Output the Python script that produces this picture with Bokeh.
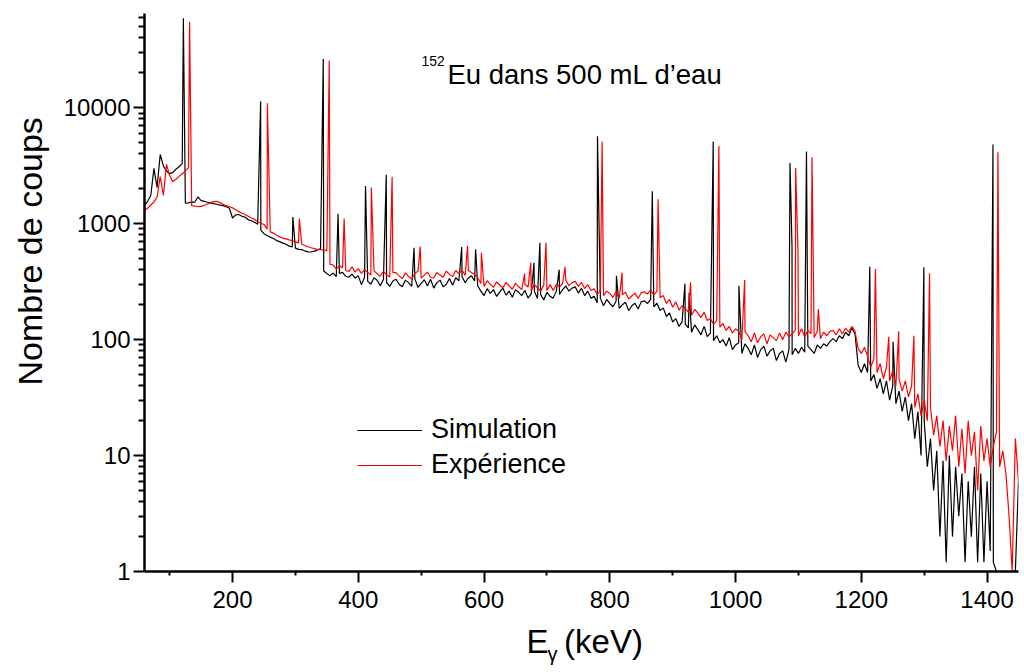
from bokeh.plotting import figure
from bokeh.models import (FixedTicker, Label, Legend, LegendItem, PrintfTickFormatter,
                          LinearAxis, Title)
from bokeh.embed import file_html
from bokeh.resources import INLINE

# ---------------- data ----------------
# channel energies of the 5 keV continuum grid (keV)
energy_grid = list(range(60, 1455, 5))

# Simulation continuum (counts per channel)
sim_continuum = [
    1440, 1560, 1750, 3000, 2050, 3950, 3150, 2850, 2700, 2760,
    2950, 3100, 3300, 1500, 1510, 1540, 1530, 1700, 1580, 1560,
    1530, 1510, 1490, 1470, 1445, 1430, 1400, 1360, 1120, 1190,
    1200, 1160, 1140, 1080, 1060, 1030, 990, 880, 820, 790,
    765, 745, 715, 700, 680, 665, 640, 630, 615, 600,
    598, 582, 572, 570, 580, 592, 610, 390, 372, 355,
    375, 350, 372, 380, 352, 345, 368, 340, 355, 298,
    345, 318, 300, 342, 325, 292, 330, 310, 288, 320,
    332, 300, 286, 326, 310, 288, 334, 282, 305, 328,
    290, 332, 278, 310, 326, 285, 300, 336, 295, 342,
    322, 348, 310, 340, 356, 320, 290, 262, 240, 275,
    250, 270, 236, 258, 278, 242, 262, 232, 270, 256,
    240, 266, 228, 248, 262, 226, 245, 220, 256, 236,
    228, 262, 245, 270, 290, 262, 278, 285, 252, 278,
    240, 262, 228, 236, 208, 228, 196, 222, 205, 192,
    214, 186, 200, 210, 178, 196, 206, 184, 212, 216,
    205, 222, 192, 206, 178, 188, 158, 170, 142, 152,
    130, 142, 136, 126, 116, 134, 122, 110, 130, 106,
    114, 98, 108, 94, 100, 88, 104, 82, 90, 94,
    76, 92, 84, 74, 90, 70, 82, 88, 72, 80,
    84, 66, 76, 80, 64, 82, 74, 84, 76, 86,
    78, 88, 82, 76, 90, 84, 92, 88, 96, 102,
    96, 108, 102, 116, 108, 126, 112, 60, 52, 62,
    52, 44, 50, 38, 46, 34, 44, 30, 40, 28,
    36, 24, 32, 20, 28, 14, 24, 10, 20, 8,
    14, 5, 11, 2, 9, 1.2, 10, 2, 8, 3,
    7, 1.2, 6, 2, 8, 1.2, 7, 1.2, 6, 1.5,
    1.2, 1, 1, 1, 1, 1, 1, 1, 6,
]

# Experiment continuum (counts per channel)
exp_continuum = [
    1300, 1360, 1450, 1540, 1700, 2550, 1750, 3250, 2600, 2300,
    2420, 2560, 2700, 2850, 3050, 1430, 1420, 1400, 1410, 1440,
    1480, 1520, 1550, 1560, 1520, 1470, 1430, 1400, 1370, 1320,
    1270, 1230, 1200, 1160, 1120, 1090, 1040, 1010, 985, 900,
    850, 830, 795, 770, 750, 740, 725, 715, 700, 680,
    665, 648, 632, 620, 610, 602, 598, 592, 585, 445,
    440, 405, 432, 418, 395, 388, 425, 382, 410, 372,
    400, 380, 360, 392, 370, 352, 388, 362, 346, 380,
    378, 355, 336, 376, 350, 334, 372, 390, 340, 360,
    382, 345, 340, 378, 360, 346, 390, 365, 350, 395,
    372, 398, 358, 394, 380, 365, 340, 305, 288, 322,
    300, 282, 315, 296, 280, 312, 290, 272, 306, 286,
    270, 300, 284, 266, 298, 280, 262, 295, 264, 298,
    266, 300, 285, 305, 325, 292, 310, 318, 288, 312,
    276, 298, 265, 275, 245, 268, 240, 262, 250, 232,
    258, 228, 244, 256, 224, 238, 252, 226, 254, 258,
    248, 268, 242, 262, 230, 240, 205, 222, 190, 212,
    180, 196, 186, 172, 162, 182, 170, 155, 172, 146,
    152, 136, 146, 128, 138, 120, 130, 114, 124, 118,
    100, 118, 108, 96, 114, 94, 106, 112, 92, 110,
    104, 98, 114, 100, 116, 106, 112, 120, 108, 124,
    106, 120, 112, 104, 118, 102, 116, 108, 118, 120,
    110, 124, 112, 126, 116, 130, 118, 84, 76, 86,
    72, 58, 68, 52, 62, 46, 58, 44, 54, 40,
    46, 36, 44, 32, 40, 26, 34, 22, 30, 20,
    26, 15, 22, 12, 20, 9, 18, 11, 22, 8,
    17, 7, 20, 10, 16, 5, 18, 9, 14, 8,
    12, 16, 8, 11, 7, 3, 1, 14, 6,
]

# photopeaks (energy keV, counts at the top)
sim_peak_energy = [121.8, 244.7, 295.9, 344.3, 367.8, 411.5, 444.5, 488.7, 564.5,
                   586.6, 679.5, 688.8, 719.5, 780.4, 810.6, 867.6, 919.5, 926.2,
                   964.5, 1005.4, 1086.6, 1089.8, 1112.8, 1213.5, 1250.5, 1299.5, 1409.4]
sim_peak_counts = [59000, 11400, 1140, 26300, 1220, 2110, 2640, 620, 628,
                   600, 460, 684, 401, 5690, 356, 1900, 304, 254,
                   5120, 292, 3340, 631, 4200, 425, 96, 420, 4820]

exp_peak_energy = [131.7, 255.4, 306.3, 353.8, 377.5, 420.8, 453.8, 498.5, 573.8,
                   595.8, 664.6, 674.3, 698.6, 728.8, 787.8, 819.6, 876.8, 928.5,
                   973.5, 1014.5, 1095.6, 1099.3, 1121.6, 1131.6, 1222.5, 1243.7,
                   1259.5, 1283.6, 1308.5, 1417.3]
exp_peak_counts = [55100, 10950, 1110, 25600, 1110, 2050, 2540, 636, 646,
                   561, 372, 460, 684, 425, 5120, 378, 1623, 312,
                   4670, 327, 3020, 580, 3750, 184, 406, 106,
                   118, 108, 372, 4140]

x_major = [200, 400, 600, 800, 1000, 1200, 1400]
x_minor = [100, 300, 500, 700, 900, 1100, 1300]
y_major = [1, 10, 100, 1000, 10000]


def build(grid, cont, pe, pc):
    pts = sorted(list(zip(grid, cont)) + list(zip(pe, pc)))
    return [a for a, _ in pts], [b for _, b in pts]


sim_x, sim_y = build(energy_grid, sim_continuum, sim_peak_energy, sim_peak_counts)
exp_x, exp_y = build(energy_grid, exp_continuum, exp_peak_energy, exp_peak_counts)

FONT = "Liberation Sans"

p = figure(width=1024, height=672, y_axis_type="log",
           x_range=(60, 1450), y_range=(1, 65000),
           output_backend="svg", toolbar_location=None,
           min_border_left=144, min_border_right=6,
           min_border_top=13, min_border_bottom=101)
p.outline_line_color = None
p.xgrid.visible = False
p.ygrid.visible = False
p.background_fill_color = "white"
p.border_fill_color = "white"

r_sim = p.line(sim_x, sim_y, line_color="black", line_width=1.2)
r_exp = p.line(exp_x, exp_y, line_color="#ff0000", line_width=1.2)

p.xaxis.ticker = FixedTicker(ticks=x_major, minor_ticks=x_minor)
p.yaxis.ticker = FixedTicker(ticks=y_major,
                             minor_ticks=[m * 10 ** k for k in range(5) for m in range(2, 10)])
p.yaxis.formatter = PrintfTickFormatter(format="%d")

for ax in (p.xaxis[0], p.yaxis[0]):
    ax.axis_line_width = 2.5
    ax.axis_line_color = "black"
    ax.major_tick_line_width = 2
    ax.minor_tick_line_width = 2
    ax.major_tick_in = 0
    ax.minor_tick_in = 0
    ax.major_tick_out = 11
    ax.major_label_text_font = FONT
    ax.major_label_text_font_size = "24px"
    ax.major_label_text_color = "black"

p.xaxis.minor_tick_out = 4
p.yaxis.minor_tick_out = 6
p.xaxis.major_label_standoff = 8
p.yaxis.major_label_standoff = 3


def title_axis(tick, text, size, standoff):
    """An extra, line-less axis whose tick label serves as (part of) the axis title."""
    return LinearAxis(ticker=FixedTicker(ticks=[tick], minor_ticks=[]),
                      major_label_overrides={tick: text},
                      axis_line_color=None, major_tick_line_color=None,
                      minor_tick_line_color=None, major_tick_out=0, minor_tick_out=0,
                      major_tick_in=0, minor_tick_in=0,
                      major_label_standoff=standoff,
                      major_label_text_font=FONT, major_label_text_font_size=size,
                      major_label_text_color="black")


# y-axis title, placed a little above the frame centre as in the reference
y_title = Title(text="Nombre de coups", align="left", vertical_align="top",
                offset=186, standoff=19, text_font=FONT, text_font_size="34px",
                text_font_style="normal", text_color="black")
p.add_layout(y_title, "left")

# x-axis title  E_gamma (keV)
x_title = title_axis(685, "E", "33px", 12)
x_title.ticker = FixedTicker(ticks=[685, 790], minor_ticks=[])
x_title.major_label_overrides = {685: "E", 790: "(keV)"}
p.add_layout(x_title, "below")
p.add_layout(title_axis(709, "γ", "20px", -20), "below")


# chart title  152Eu dans 500 mL d'eau
def lab(x, y, text, size):
    p.add_layout(Label(x=x, y=y, x_units="screen", y_units="screen", text=text,
                       text_font=FONT, text_font_size=size, text_color="black",
                       text_baseline="alphabetic", text_align="left"))


lab(277, 511, "152", "14px")
lab(303, 497, "Eu dans 500 mL d’eau", "27.5px")

legend = Legend(items=[LegendItem(label="Simulation", renderers=[r_sim]),
                       LegendItem(label="Expérience", renderers=[r_exp])],
                location=(213, 91))
legend.border_line_color = None
legend.background_fill_alpha = 0
legend.label_text_font = FONT
legend.label_text_font_size = "27px"
legend.label_text_color = "black"
legend.glyph_width = 65
legend.glyph_height = 30
legend.label_height = 30
legend.label_standoff = 9
legend.spacing = 4
legend.padding = 0
legend.margin = 0
p.add_layout(legend)

open("out.html", "w").write(file_html(p, INLINE))
